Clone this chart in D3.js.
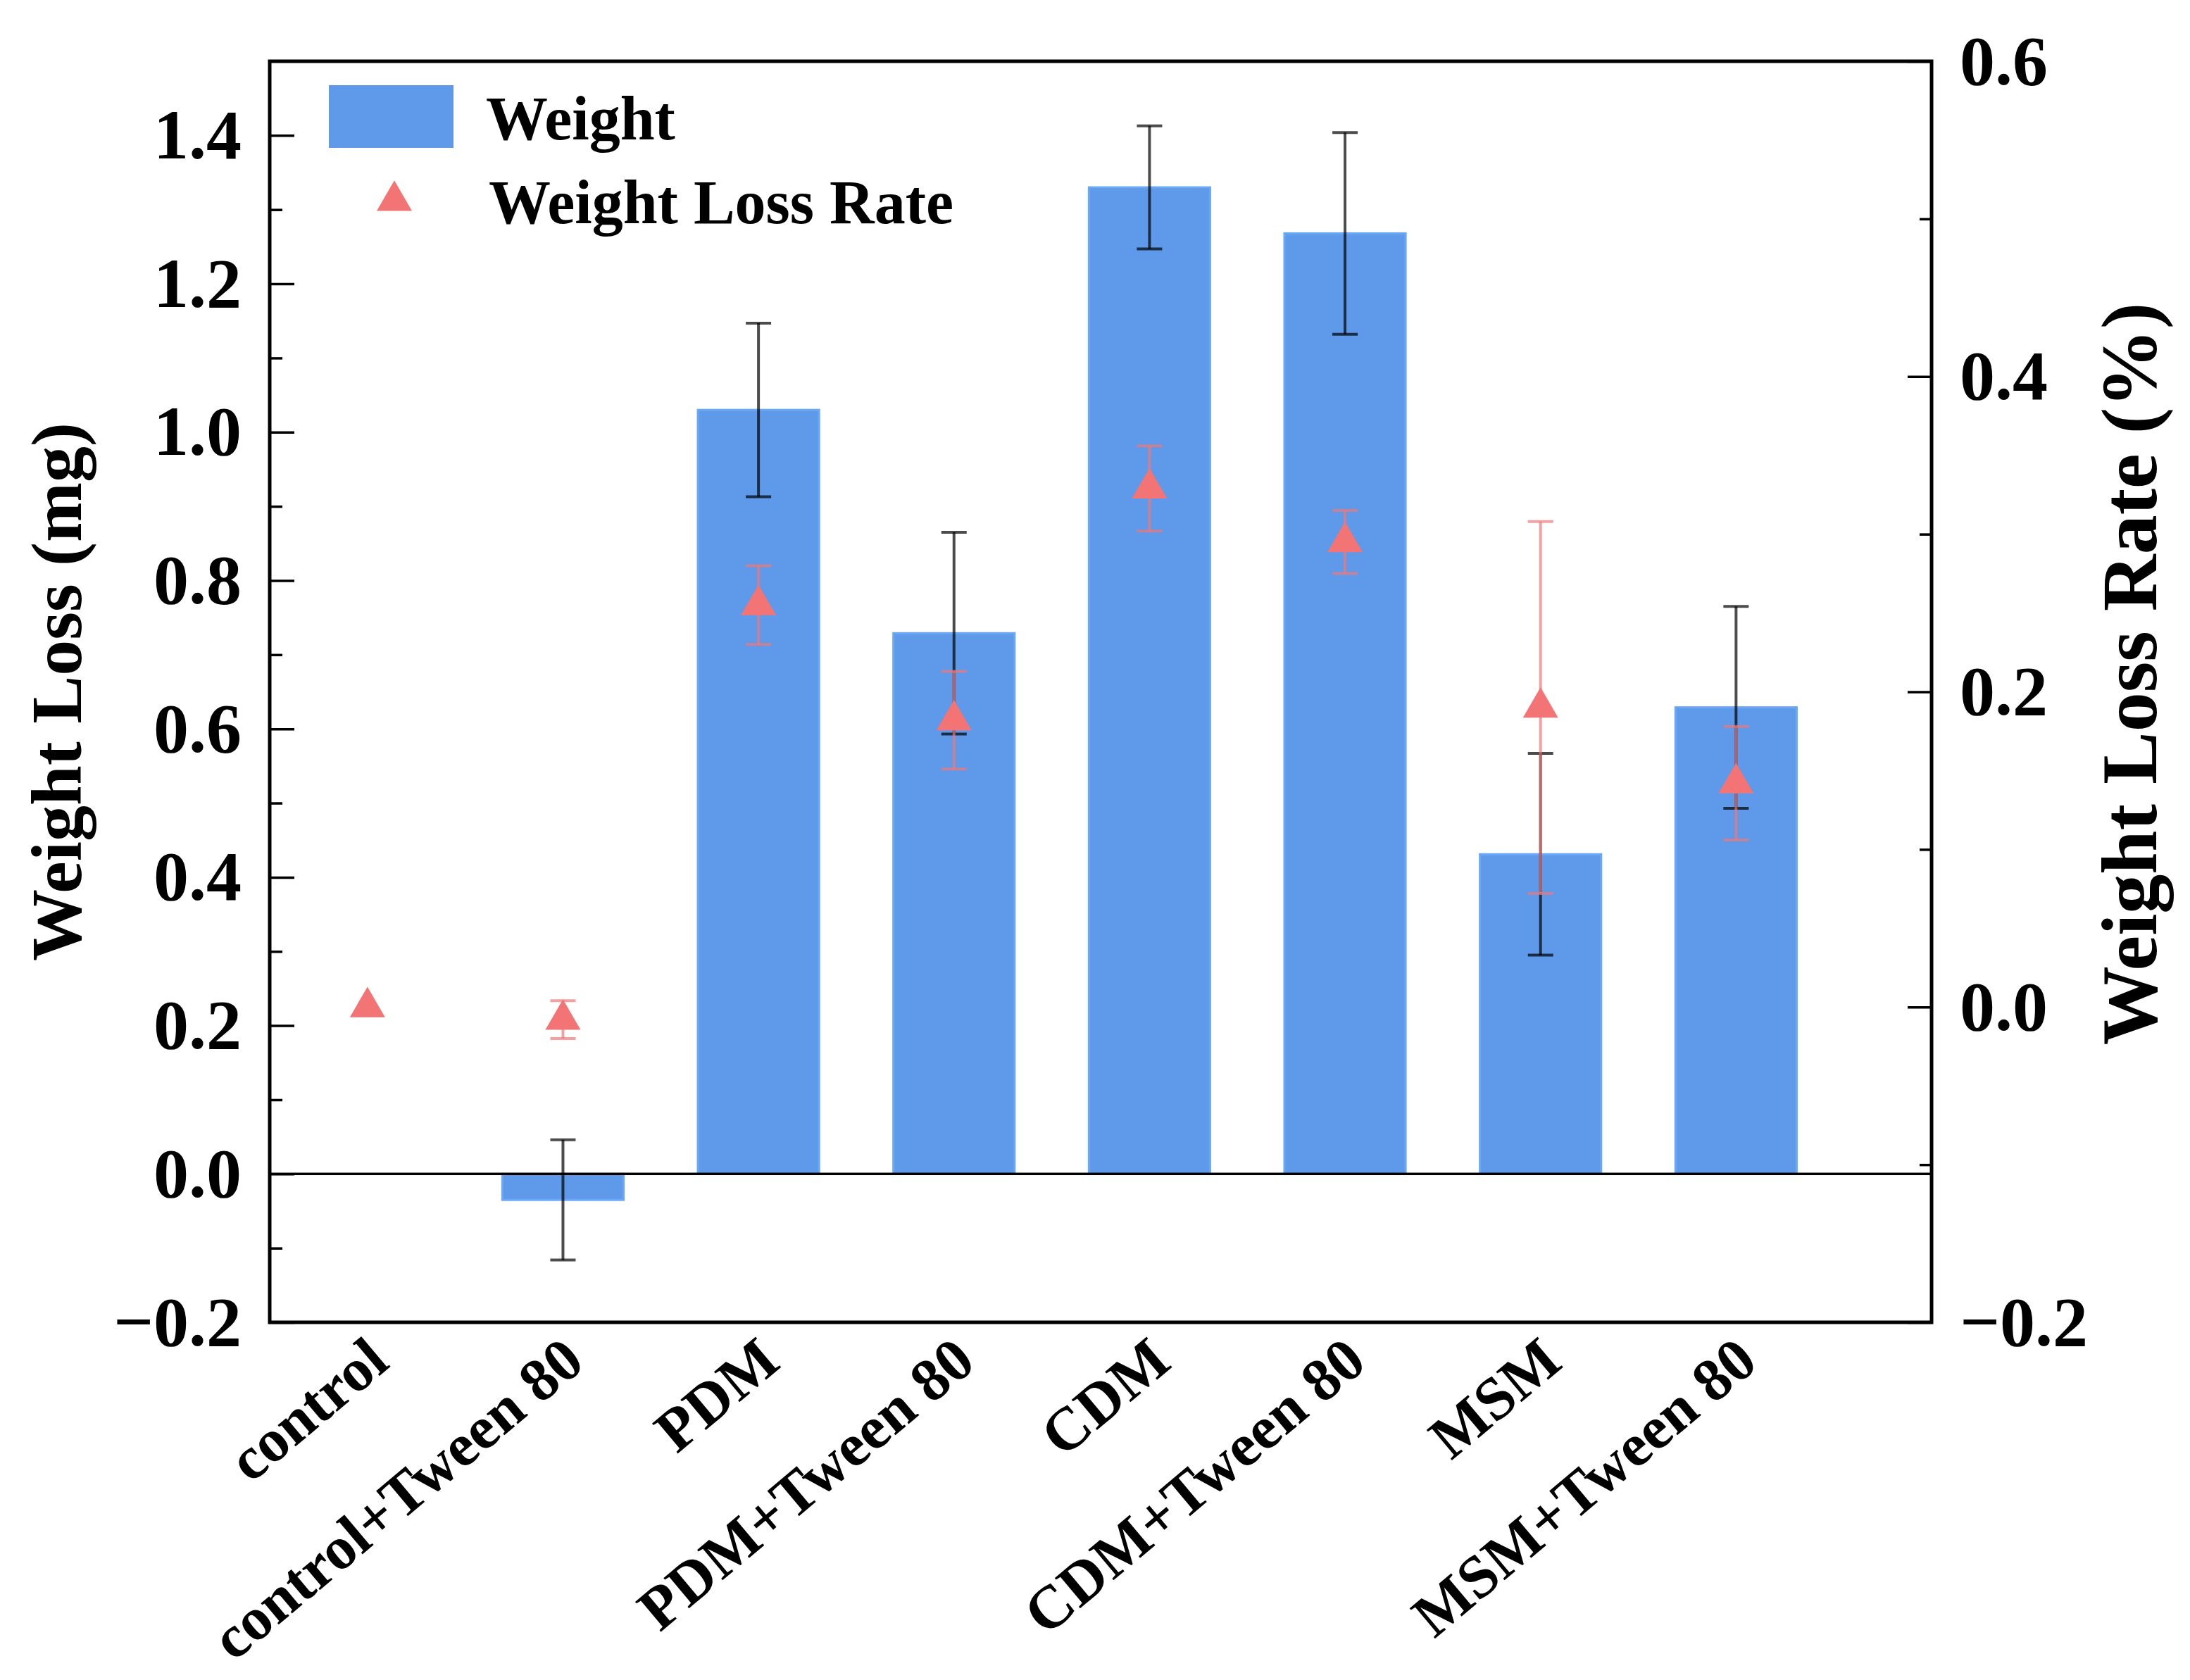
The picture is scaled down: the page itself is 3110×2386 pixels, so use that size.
<!DOCTYPE html>
<html>
<head>
<meta charset="utf-8">
<script src="https://cdn.jsdelivr.net/npm/d3@7"></script>
<style>
  body { margin: 0; background: #fff; }
  text { font-family: "Liberation Serif", "Times New Roman", serif; font-weight: bold; fill: #000; }
</style>
</head>
<body>
<script>
// values
const categories = ['control', 'control+Tween 80', 'PDM', 'PDM+Tween 80', 'CDM', 'CDM+Tween 80', 'MSM', 'MSM+Tween 80'];
const weight = [0, -0.035, 1.030, 0.729, 1.330, 1.268, 0.431, 0.629];
const weightErr = [0, 0.081, 0.117, 0.136, 0.083, 0.136, 0.136, 0.136];
const rate = [0.0, -0.008, 0.255, 0.182, 0.329, 0.295, 0.190, 0.142];
const rateErr = [0, 0.012, 0.025, 0.031, 0.027, 0.020, 0.118, 0.036];

const leftTicks = [-0.2, 0, 0.2, 0.4, 0.6, 0.8, 1.0, 1.2, 1.4];
const leftMinor = [-0.1, 0.1, 0.3, 0.5, 0.7, 0.9, 1.1, 1.3];
const rightTicks = [-0.2, 0, 0.2, 0.4, 0.6];
const rightMinor = [-0.1, 0.1, 0.3, 0.5];

const W = 3110, H = 2386;
const plot = {left: 383, right: 2743, top: 87, bottom: 1878};

const svg = d3.select('body').append('svg')
  .attr('width', W)
  .attr('height', H);

const x = d3.scaleLinear().domain([-0.5, 8]).range([plot.left, plot.right]);
const yL = d3.scaleLinear().domain([-0.2, 1.5]).range([plot.bottom, plot.top]);
const yR = d3.scaleLinear().domain([-0.2, 0.6]).range([plot.bottom, plot.top]);

const barW = x(0.62) - x(0);
const capW = 36;
const blue = '#5e9ae9';
const red = '#f37474';

const rows = categories.map((c, i) => ({
  cat: c, i: i, w: weight[i], we: weightErr[i], r: rate[i], re: rateErr[i]
}));

// bars
svg.append('g').selectAll('rect').data(rows.filter((d) => d.w !== 0)).enter().append('rect')
  .attr('x', (d) => x(d.i) - barW / 2)
  .attr('width', barW)
  .attr('y', (d) => Math.min(yL(d.w), yL(0)))
  .attr('height', (d) => Math.abs(yL(d.w) - yL(0)))
  .attr('fill', blue)
  .attr('stroke', '#6aa8f6')
  .attr('stroke-width', 3);

// zero line
svg.append('line')
  .attr('x1', plot.left).attr('x2', plot.right)
  .attr('y1', yL(0)).attr('y2', yL(0))
  .attr('stroke', '#000').attr('stroke-width', 3.5);

function errorBars(data, y, val, err, color, opacity, width) {
  const g = svg.append('g')
    .attr('stroke', color)
    .attr('stroke-opacity', opacity)
    .attr('stroke-width', width)
    .attr('fill', 'none');
  const e = g.selectAll('g').data(data.filter((d) => err(d) > 0)).enter().append('g');
  e.append('line')
    .attr('x1', (d) => x(d.i)).attr('x2', (d) => x(d.i))
    .attr('y1', (d) => y(val(d) + err(d))).attr('y2', (d) => y(val(d) - err(d)));
  e.append('line')
    .attr('x1', (d) => x(d.i) - capW / 2).attr('x2', (d) => x(d.i) + capW / 2)
    .attr('y1', (d) => y(val(d) + err(d))).attr('y2', (d) => y(val(d) + err(d)));
  e.append('line')
    .attr('x1', (d) => x(d.i) - capW / 2).attr('x2', (d) => x(d.i) + capW / 2)
    .attr('y1', (d) => y(val(d) - err(d))).attr('y2', (d) => y(val(d) - err(d)));
}

errorBars(rows, yL, (d) => d.w, (d) => d.we, '#000', 0.7, 4);
errorBars(rows, yR, (d) => d.r, (d) => d.re, '#f07878', 0.7, 4);

// triangles (weight loss rate)
const tri = d3.symbol().type(d3.symbolTriangle).size(1080);
svg.append('g').selectAll('path').data(rows).enter().append('path')
  .attr('d', tri)
  .attr('transform', (d) => `translate(${x(d.i)},${yR(d.r)})`)
  .attr('fill', red);

// frame
svg.append('rect')
  .attr('x', plot.left).attr('y', plot.top)
  .attr('width', plot.right - plot.left)
  .attr('height', plot.bottom - plot.top)
  .attr('fill', 'none')
  .attr('stroke', '#000')
  .attr('stroke-width', 5);

// left axis (ticks inside)
const fmt = d3.format('.1f');
svg.append('g').attr('transform', `translate(${plot.left},0)`)
  .call(d3.axisLeft(yL).tickValues(leftTicks).tickSize(-35).tickPadding(40).tickFormat(fmt));
svg.append('g').attr('transform', `translate(${plot.left},0)`)
  .call(d3.axisLeft(yL).tickValues(leftMinor).tickSize(-18).tickFormat(''));

// right axis
svg.append('g').attr('transform', `translate(${plot.right},0)`)
  .call(d3.axisRight(yR).tickValues(rightTicks).tickSize(-34).tickPadding(40).tickFormat(fmt));
svg.append('g').attr('transform', `translate(${plot.right},0)`)
  .call(d3.axisRight(yR).tickValues(rightMinor).tickSize(-17).tickFormat(''));

svg.selectAll('.domain').remove();
svg.selectAll('.tick line').attr('stroke', '#000').attr('stroke-width', 3.5);
svg.selectAll('.tick text')
  .style('font-family', '"Liberation Serif", "Times New Roman", serif')
  .style('font-weight', 'bold')
  .style('font-size', '100px')
  .attr('fill', '#000');

// category labels (rotated)
svg.append('g').selectAll('text').data(rows).enter().append('text')
  .attr('transform', (d) => `translate(${x(d.i) + 34},1940) rotate(-40)`)
  .attr('text-anchor', 'end')
  .style('font-size', '86px')
  .text((d) => d.cat);

// axis titles
svg.append('text')
  .attr('transform', `translate(115,${(plot.top + plot.bottom) / 2}) rotate(-90)`)
  .attr('text-anchor', 'middle')
  .style('font-size', '102px')
  .text('Weight Loss (mg)');

svg.append('text')
  .attr('transform', `translate(3062,957) rotate(-90)`)
  .attr('text-anchor', 'middle')
  .style('font-size', '112px')
  .text('Weight Loss Rate (%)');

// legend
const leg = svg.append('g');
leg.append('rect')
  .attr('x', 467).attr('y', 121).attr('width', 177).attr('height', 89)
  .attr('fill', blue);
leg.append('path')
  .attr('d', tri)
  .attr('transform', 'translate(560,285)')
  .attr('fill', red);
leg.append('text').attr('x', 690).attr('y', 198).style('font-size', '88px').text('Weight');
leg.append('text').attr('x', 694).attr('y', 317).style('font-size', '88px').text('Weight Loss Rate');
</script>
</body>
</html>
